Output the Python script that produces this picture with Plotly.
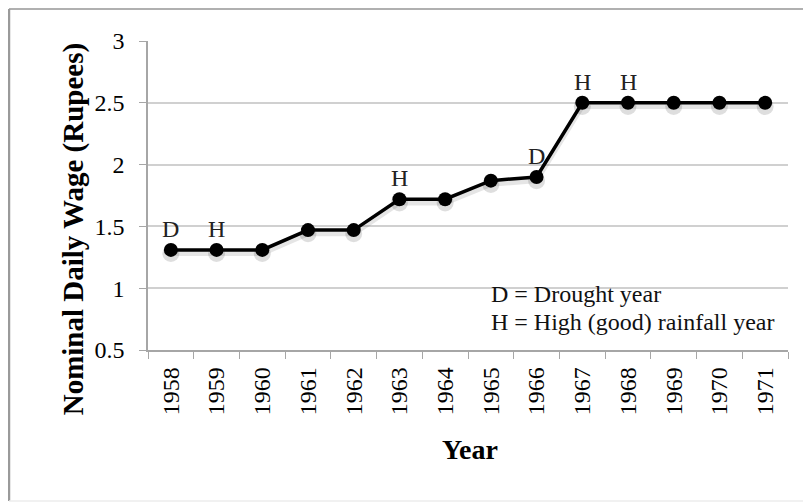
import plotly.graph_objects as go

years = ["1958", "1959", "1960", "1961", "1962", "1963", "1964",
         "1965", "1966", "1967", "1968", "1969", "1970", "1971"]
wages = [1.31, 1.31, 1.31, 1.47, 1.47, 1.72, 1.72,
         1.87, 1.90, 2.50, 2.50, 2.50, 2.50, 2.50]
flags = ["D", "H", "", "", "", "H", "", "", "D", "H", "H", "", "", ""]
y_ticks = [0.5, 1, 1.5, 2, 2.5, 3]
y_tick_text = ["0.5", "1", "1.5", "2", "2.5", "3"]
legend_lines = ["D = Drought year", "H = High (good) rainfall year"]

FONT = "Liberation Serif, Times New Roman, serif"

fig = go.Figure()
# soft drop shadow beneath the series
fig.add_trace(go.Scatter(
    x=years, y=[w - 0.03 for w in wages], mode="lines+markers",
    line=dict(color="rgba(0,0,0,0.10)", width=5),
    marker=dict(color="rgba(0,0,0,0.13)", size=17),
    showlegend=False, hoverinfo="skip",
))
fig.add_trace(go.Scatter(
    x=years, y=wages, mode="lines+markers",
    line=dict(color="black", width=3.5),
    marker=dict(color="black", size=14),
    showlegend=False, hoverinfo="x+y",
))

annotations = []
for i, (w, f) in enumerate(zip(wages, flags)):
    if f:
        annotations.append(dict(
            x=i, y=w, xref="x", yref="y", text=f, showarrow=False,
            yshift=21, font=dict(family=FONT, size=24, color="#222222"),
        ))

legend_y = [0.953, 0.726]
for txt, ly in zip(legend_lines, legend_y):
    annotations.append(dict(
        x=0.533, y=ly, xref="paper", yref="y", text=txt, showarrow=False,
        xanchor="left", yanchor="middle",
        font=dict(family=FONT, size=24, color="#111111"),
    ))

# Axis titles
annotations.append(dict(
    x=-0.117, y=0.391, xref="paper", yref="paper",
    text="<b>Nominal Daily Wage (Rupees)</b>", textangle=-90, showarrow=False,
    xanchor="center", yanchor="middle",
    font=dict(family=FONT, size=29, color="black"),
))
annotations.append(dict(
    x=0.503, y=-0.323, xref="paper", yref="paper",
    text="<b>Year</b>", showarrow=False, xanchor="center", yanchor="middle",
    font=dict(family=FONT, size=28, color="black"),
))

frame_left, frame_right, frame_top, frame_bottom = -0.2172, 1.06, 1.1036, -0.4887
shapes = [
    dict(type="line", xref="paper", yref="paper",
         x0=frame_left, x1=frame_right, y0=frame_top, y1=frame_top,
         line=dict(color="#b0b0b0", width=2), layer="below"),
    dict(type="line", xref="paper", yref="paper",
         x0=frame_left, x1=frame_left, y0=frame_bottom, y1=frame_top,
         line=dict(color="#9a9a9a", width=2.5), layer="below"),
    dict(type="line", xref="paper", yref="paper",
         x0=frame_left, x1=frame_right, y0=frame_bottom, y1=frame_bottom,
         line=dict(color="#ececec", width=1.5), layer="below"),
]

fig.update_layout(
    width=803, height=494,
    margin=dict(l=140, r=23, t=33, b=152),
    paper_bgcolor="white", plot_bgcolor="white",
    font=dict(family=FONT, size=24, color="black"),
    annotations=annotations,
    shapes=shapes,
)
fig.update_xaxes(
    type="category", tickangle=-90, range=[-0.5, len(years) - 0.5],
    showline=True, linecolor="#a6a6a6", linewidth=1.5,
    ticks="outside", tickson="boundaries", ticklen=7, tickcolor="#a6a6a6",
    showgrid=False, ticklabelstandoff=6,
    tickfont=dict(family=FONT, size=24, color="black"),
)
fig.update_yaxes(
    range=[0.5, 3], tickvals=y_ticks, ticktext=y_tick_text,
    showline=True, linecolor="#a6a6a6", linewidth=1.5,
    ticks="outside", ticklen=7, tickcolor="#a6a6a6",
    showgrid=True, gridcolor="#d0d0d0", gridwidth=1.5,
    zeroline=False, ticklabelstandoff=10,
    tickfont=dict(family=FONT, size=24, color="black"),
)

fig.write_html("out.html")
